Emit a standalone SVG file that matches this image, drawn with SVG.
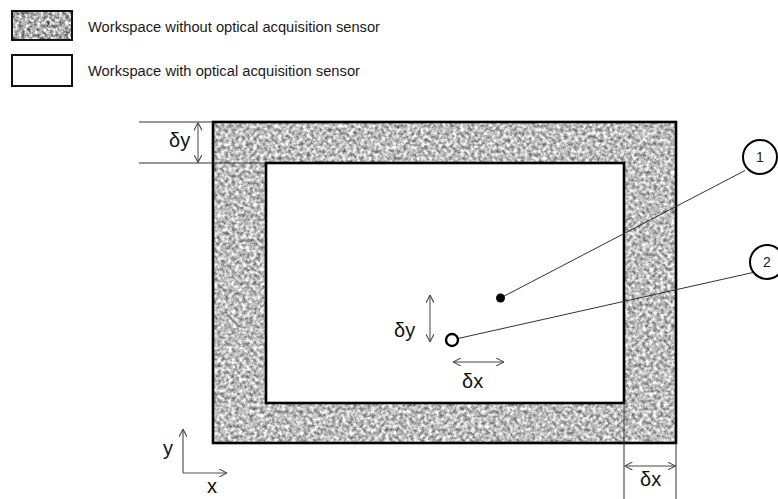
<svg xmlns="http://www.w3.org/2000/svg" width="778" height="499" viewBox="0 0 778 499">
<style>
.lg{font-family:"Liberation Sans",Arial,sans-serif;font-size:14px;fill:#1a1a1a}
.dim{font-family:"Liberation Sans",Arial,sans-serif;font-size:20px;fill:#111}
.num{font-family:"Liberation Sans",Arial,sans-serif;font-size:14px;fill:#222;text-anchor:middle}
.thin{stroke:#333;stroke-width:1;fill:none}
.arr{stroke:#444;stroke-width:1;fill:none;marker-start:url(#ah);marker-end:url(#ah)}
.ax{stroke:#555;stroke-width:1.2;fill:none;marker-end:url(#ah)}
.tex{fill:#000;filter:url(#granite)}
</style>
<defs>
<marker id="ah" viewBox="0 0 10 10" refX="10" refY="5" markerWidth="8" markerHeight="8" markerUnits="userSpaceOnUse" orient="auto-start-reverse">
<path d="M0,0 L10,5 L0,10" fill="none" stroke="#444" stroke-width="1.3"/>
</marker>
<filter id="granite" x="0" y="0" width="100%" height="100%" color-interpolation-filters="sRGB">
<feTurbulence type="fractalNoise" baseFrequency="0.28" numOctaves="3" seed="7" result="n"/>
<feColorMatrix in="n" type="matrix" values="1.05 0 0 0 0.22  1.05 0 0 0 0.22  1.05 0 0 0 0.22  0 0 0 0 1" result="g"/>
<feComposite in="g" in2="SourceGraphic" operator="in"/>
</filter>
<filter id="graniteDark" x="0" y="0" width="100%" height="100%" color-interpolation-filters="sRGB">
<feTurbulence type="fractalNoise" baseFrequency="0.32" numOctaves="3" seed="3" result="n"/>
<feColorMatrix in="n" type="matrix" values="1.25 0 0 0 0.06  1.25 0 0 0 0.06  1.25 0 0 0 0.06  0 0 0 0 1" result="g"/>
<feComposite in="g" in2="SourceGraphic" operator="in"/>
</filter>
</defs>
<rect width="778" height="499" fill="#fff"/>

<g id="legend-without">
<rect x="12" y="11" width="60" height="29" fill="#000" filter="url(#graniteDark)"/>
<rect x="12" y="11" width="60" height="29" fill="none" stroke="#111" stroke-width="2"/>
<text class="lg" x="88" y="31.5" textLength="292" lengthAdjust="spacingAndGlyphs">Workspace without optical acquisition sensor</text>
</g>
<g id="legend-with">
<rect x="12" y="55" width="60" height="31" fill="#fff" stroke="#111" stroke-width="2"/>
<text class="lg" x="88" y="76" textLength="272" lengthAdjust="spacingAndGlyphs">Workspace with optical acquisition sensor</text>
</g>

<g id="workspace-outer">
<rect class="tex" x="213" y="122" width="463" height="321"/>
<rect x="213" y="122" width="463" height="321" fill="none" stroke="#000" stroke-width="2.6"/>
</g>
<g id="workspace-inner">
<rect x="266" y="163" width="358" height="240" fill="#fff" stroke="#000" stroke-width="2.6"/>
</g>

<g id="connectors">
<line class="thin" x1="500.5" y1="298" x2="745" y2="170.5"/>
<line class="thin" x1="458" y1="338.5" x2="753" y2="272.5"/>
</g>

<g id="point-1">
<circle cx="500.5" cy="298" r="4.5" fill="#000"/>
</g>
<g id="point-2">
<circle cx="452" cy="340" r="6" fill="#fff" stroke="#000" stroke-width="2.4"/>
</g>

<g id="label-1">
<circle cx="760" cy="157" r="17" fill="#fff" stroke="#000" stroke-width="2"/>
<text class="num" x="760" y="162">1</text>
</g>
<g id="label-2">
<circle cx="767" cy="262" r="17" fill="#fff" stroke="#000" stroke-width="2"/>
<text class="num" x="767" y="267">2</text>
</g>

<g id="dimension-top-dy">
<line class="thin" x1="139" y1="122" x2="213" y2="122"/>
<line class="thin" x1="139" y1="163" x2="266" y2="163"/>
<line class="arr" x1="198" y1="122.5" x2="198" y2="162.5"/>
<text class="dim" x="169" y="147">δy</text>
</g>

<g id="dimension-point-dy">
<line class="arr" x1="430" y1="295" x2="430" y2="342"/>
<text class="dim" x="394" y="337">δy</text>
</g>
<g id="dimension-point-dx">
<line class="arr" x1="453" y1="362" x2="504" y2="362"/>
<text class="dim" x="462" y="388">δx</text>
</g>

<g id="dimension-bottom-dx">
<line class="thin" x1="624" y1="403" x2="624" y2="499"/>
<line class="thin" x1="676" y1="443" x2="676" y2="499"/>
<line class="arr" x1="624.5" y1="466" x2="675.5" y2="466"/>
<text class="dim" x="640" y="486">δx</text>
</g>

<g id="axes">
<line class="ax" x1="183" y1="473" x2="183" y2="429"/>
<line class="ax" x1="183" y1="473" x2="227" y2="473"/>
<text class="dim" x="163" y="455">y</text>
<text class="dim" x="207" y="493">x</text>
</g>
</svg>
